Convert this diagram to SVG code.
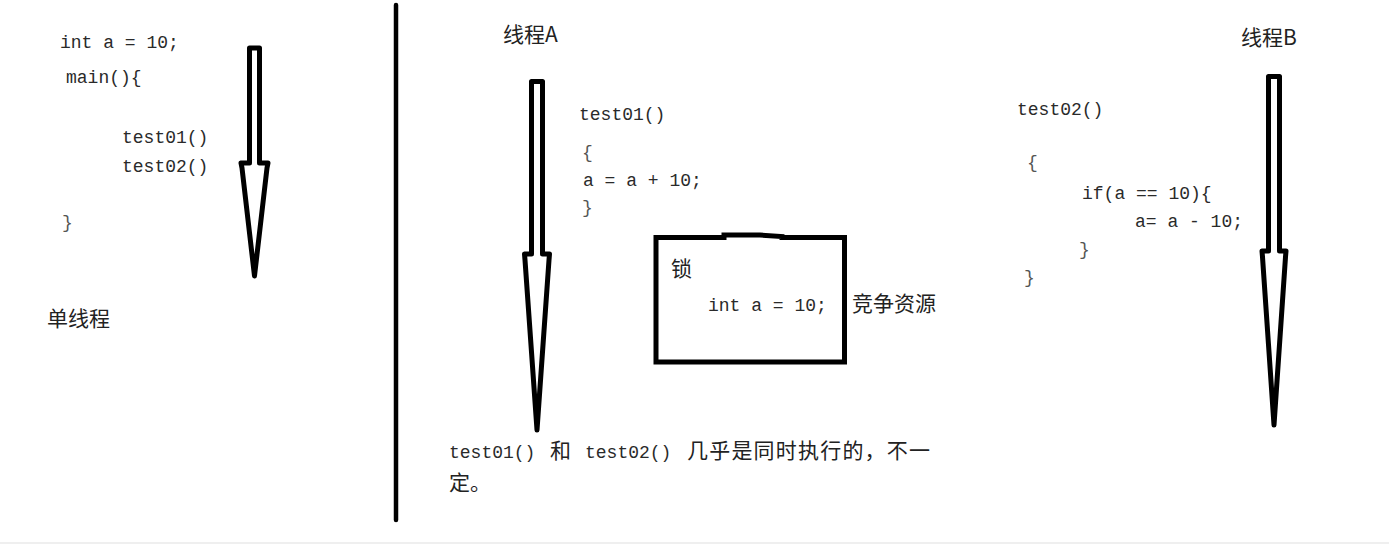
<svg xmlns="http://www.w3.org/2000/svg" width="1389" height="544" viewBox="0 0 1389 544">
<style>
.code{font-family:"Liberation Mono","DejaVu Sans Mono",monospace;font-size:18px;fill:#2a2a2a}
.br{fill:#555}
.cjk{font-family:"Noto Sans CJK SC","Noto Sans",sans-serif;font-size:21px;fill:#222}
.arrow{fill:#fff;stroke:#000;stroke-width:5;stroke-linejoin:round}
.box{fill:#fff;stroke:#000;stroke-width:5}
</style>
<rect x="0" y="0" width="1389" height="544" fill="#fff"/>
<rect x="0" y="542" width="1389" height="2" fill="#efefef"/>
<line x1="396" y1="5" x2="396" y2="520" stroke="#000" stroke-width="4.5" stroke-linecap="round"/>

<g id="single-thread">
<text class="code" x="60" y="48">int a = 10;</text>
<text class="code" x="66" y="83">main(){</text>
<text class="code" x="122" y="143">test01()</text>
<text class="code" x="122" y="172">test02()</text>
<text class="code br" x="62" y="228">}</text>
<text class="cjk" x="47" y="326">单线程</text>
</g>

<g id="arrow-main">
<polygon class="arrow" points="249.5,48 259.5,48 259.5,163 268,163 267,168 254.5,276 242,168 241,163 249.5,163"/>
</g>

<g id="thread-a">
<text class="cjk" x="503" y="42">线程A</text>
<text class="code" x="579" y="120">test01()</text>
<text class="code br" x="582" y="158">{</text>
<text class="code" x="583" y="186">a = a + 10;</text>
<text class="code br" x="582" y="213">}</text>
</g>

<g id="arrow-a">
<polygon class="arrow" points="531.5,81.5 542.5,81.5 542.5,254 549.5,254 549,260 537,430 525,260 524.5,254 531.5,254"/>
</g>

<g id="lock">
<path class="box" d="M656,237.5 H724 V235 H760 L782,236.5 V237.5 H844.5 V362 H656 Z"/>
<text class="cjk" x="671" y="276">锁</text>
<text class="code" x="708" y="311">int a = 10;</text>
<text class="cjk" x="852" y="311">竞争资源</text>
</g>

<g id="thread-b">
<text class="cjk" x="1241" y="45">线程B</text>
<text class="code" x="1017" y="115">test02()</text>
<text class="code br" x="1027" y="168">{</text>
<text class="code" x="1082" y="199">if(a == 10){</text>
<text class="code" x="1135" y="227">a= a - 10;</text>
<text class="code br" x="1079" y="255">}</text>
<text class="code br" x="1024" y="283">}</text>
</g>

<g id="arrow-b">
<polygon class="arrow" points="1268.5,76.5 1279.5,76.5 1279.5,251 1286,251 1285.5,257 1274,425 1262.5,257 1262,251 1268.5,251"/>
</g>

<g id="note">
<text x="449" y="458"><tspan class="code" x="449">test01()</tspan><tspan class="cjk" x="550">和</tspan><tspan class="code" x="585">test02()</tspan><tspan class="cjk" x="687" letter-spacing="1.2">几乎是同时执行的，不一</tspan></text>
<text class="cjk" x="449" y="490">定。</text>
</g>

<g id="connectors"></g>
</svg>
